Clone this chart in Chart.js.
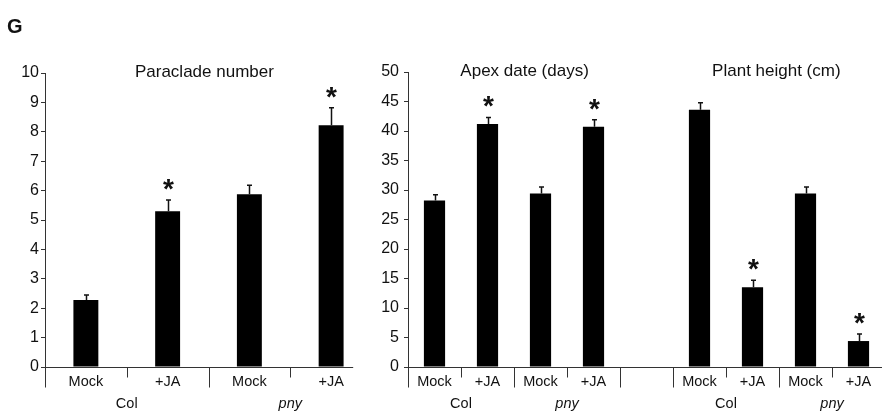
<!DOCTYPE html>
<html><head><meta charset="utf-8">
<script src="https://cdn.jsdelivr.net/npm/chart.js@4/dist/chart.umd.min.js"></script>
<style>
html,body{margin:0;padding:0;background:#fff;overflow:hidden;width:882px;height:412px;position:relative;}
#a{position:absolute;left:0;top:0;}
#b{position:absolute;left:360px;top:0;}
</style></head><body>
<canvas id="a" width="400" height="412"></canvas>
<canvas id="b" width="530" height="412"></canvas>
<script>
// ---------- data ----------
const panelLetter = 'G';

const leftTitle = 'Paraclade number';
const leftCategories = ['Mock', '+JA', 'Mock', '+JA'];
const leftGroups = ['Col', 'pny'];
const leftGroupSizes = [2, 2];
const leftGroupItalic = [false, true];
const leftYMax = 10;
const leftYStep = 1;
const paracladeMean = [2.28, 5.3, 5.88, 8.22];
const paracladeErr = [0.17, 0.38, 0.3, 0.6];
const paracladeSig = [false, true, false, true];

const apexTitle = 'Apex date (days)';
const heightTitle = 'Plant height (cm)';
const rightCategories = ['Mock', '+JA', 'Mock', '+JA', '', 'Mock', '+JA', 'Mock', '+JA'];
const rightGroups = ['Col', 'pny', '', 'Col', 'pny'];
const rightGroupSizes = [2, 2, 1, 2, 2];
const rightGroupItalic = [false, true, false, false, true];
const rightYMax = 50;
const rightYStep = 5;
const apexMean = [28.2, 41.2, 29.4, 40.7];
const apexErr = [1.0, 1.1, 1.1, 1.2];
const apexSig = [false, true, false, true];
const heightMean = [43.6, 13.5, 29.4, 4.4];
const heightErr = [1.2, 1.2, 1.1, 1.2];
const heightSig = [false, true, false, true];

// combined right panel (empty slot between the two measurements)
const rightValues = [...apexMean, null, ...heightMean];
const rightErr = [...apexErr, null, ...heightErr];
const rightSig = [...apexSig, false, ...heightSig];

// ---------- drawing ----------
const FONT = '"Liberation Sans", Arial, Helvetica, sans-serif';
const INK = '#111';
const AXIS = '#333';

const deco = {
  id: 'deco',
  afterDatasetsDraw(chart, args, o) {
    const ctx = chart.ctx, x = chart.scales.x, y = chart.scales.y, ca = chart.chartArea;
    const y0 = Math.round(y.getPixelForValue(0)) + 0.5;
    ctx.save();
    // error bars + significance stars
    const vals = chart.data.datasets[0].data;
    vals.forEach((v, i) => {
      if (v == null) return;
      const px = Math.round(x.getPixelForValue(i)) + 0.5;
      const top = y.getPixelForValue(v);
      const e = y.getPixelForValue(v + o.err[i]);
      ctx.strokeStyle = INK; ctx.lineWidth = 1.5;
      ctx.beginPath();
      ctx.moveTo(px, top); ctx.lineTo(px, e);
      ctx.moveTo(px - 2.5, e); ctx.lineTo(px + 2.5, e);
      ctx.stroke();
      if (o.sig[i]) {
        ctx.fillStyle = INK;
        ctx.font = 'bold 28px ' + FONT;
        ctx.textAlign = 'center'; ctx.textBaseline = 'alphabetic';
        ctx.fillText('*', px, e - 2);
      }
    });
    // category axis line
    ctx.strokeStyle = AXIS; ctx.lineWidth = 1;
    const xEnd = o.axisEnd == null ? ca.right : x.getPixelForValue(o.axisEnd);
    ctx.beginPath(); ctx.moveTo(ca.left, y0); ctx.lineTo(xEnd, y0); ctx.stroke();
    // dividers and labels
    ctx.fillStyle = INK;
    ctx.textAlign = 'center'; ctx.textBaseline = 'alphabetic';
    chart.data.labels.forEach((lab, i) => {
      ctx.font = '14.5px ' + FONT;
      ctx.fillText(lab, x.getPixelForValue(i), 386);
    });
    let b = 0;
    o.groups.forEach((g, gi) => {
      const size = o.groupSizes[gi];
      const lx = Math.round(x.getPixelForValue(b - 0.5)) + 0.5;
      ctx.beginPath(); ctx.moveTo(lx, y0 - 0.5); ctx.lineTo(lx, y0 + 20); ctx.stroke();
      for (let k = 1; k < size; k++) {
        const sx = Math.round(x.getPixelForValue(b + k - 0.5)) + 0.5;
        ctx.beginPath(); ctx.moveTo(sx, y0); ctx.lineTo(sx, y0 + 10); ctx.stroke();
      }
      if (g) {
        ctx.font = (o.italic[gi] ? 'italic ' : '') + '14.5px ' + FONT;
        ctx.fillText(g, x.getPixelForValue(b + (size - 1) / 2), 408);
      }
      b += size;
    });
    // titles
    ctx.font = '17px ' + FONT;
    o.titles.forEach(t => ctx.fillText(t.text, x.getPixelForValue(t.at), t.y));
    if (o.letter) {
      ctx.font = 'bold 20px ' + FONT; ctx.textAlign = 'left';
      ctx.fillText(o.letter, 7, 33);
    }
    ctx.restore();
  }
};

function makeChart(id, labels, values, yMax, yStep, yWidth, tickPad, pad, barPct, decoOpts) {
  return new Chart(document.getElementById(id), {
    type: 'bar',
    data: { labels, datasets: [{ data: values, backgroundColor: '#000', borderWidth: 0,
      barPercentage: barPct, categoryPercentage: 1 }] },
    options: {
      responsive: false, animation: false, devicePixelRatio: 1,
      layout: { padding: pad },
      plugins: { legend: { display: false }, tooltip: { enabled: false }, deco: decoOpts },
      scales: {
        x: { display: false, offset: true },
        y: {
          min: 0, max: yMax,
          ticks: { stepSize: yStep, font: { family: FONT, size: 16 }, color: INK, padding: tickPad },
          border: { color: AXIS, width: 1 },
          grid: { drawOnChartArea: false, drawTicks: true, tickLength: 4, color: AXIS },
          afterFit(s) { s.width = yWidth; }
        }
      }
    },
    plugins: [deco]
  });
}

makeChart('a', leftCategories, paracladeMean, leftYMax, leftYStep, 45, 2,
  { left: 0, top: 73, right: 28, bottom: 45 }, 0.305,
  { err: paracladeErr, sig: paracladeSig, groups: leftGroups, groupSizes: leftGroupSizes,
    italic: leftGroupItalic, axisEnd: 3.27, letter: panelLetter,
    titles: [{ text: leftTitle, at: 1.45, y: 77 }] });

makeChart('b', rightCategories, rightValues, rightYMax, rightYStep, 48, 5,
  { left: 0, top: 72, right: 5, bottom: 45 }, 0.4,
  { err: rightErr, sig: rightSig, groups: rightGroups, groupSizes: rightGroupSizes,
    italic: rightGroupItalic, axisEnd: null, letter: null,
    titles: [{ text: apexTitle, at: 1.7, y: 76 }, { text: heightTitle, at: 6.45, y: 76 }] });
</script>
</body></html>
